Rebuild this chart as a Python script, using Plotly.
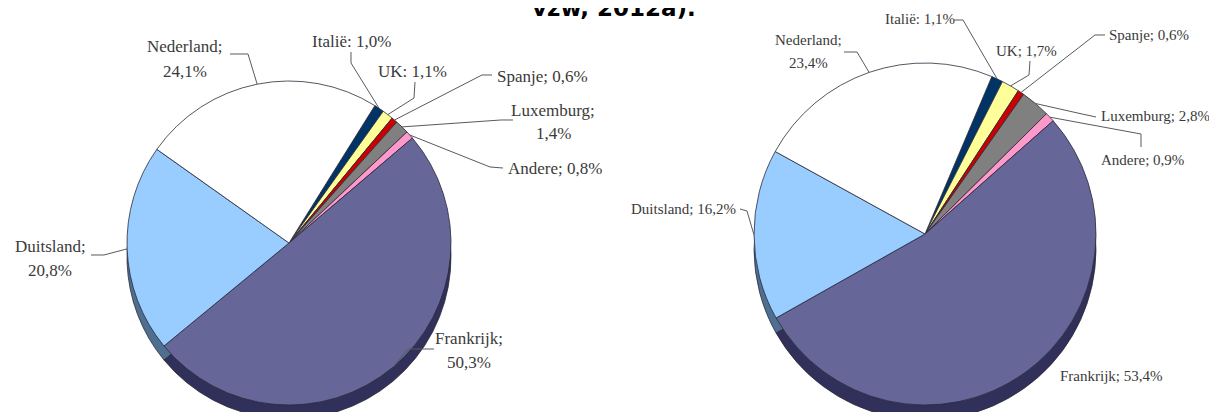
import math
import plotly.graph_objects as go

W, H = 1217, 412

# ---------------- data ----------------
countries = ["Italië", "UK", "Spanje", "Luxemburg", "Andere", "Frankrijk", "Duitsland", "Nederland"]
share_left = [1.0, 1.1, 0.6, 1.4, 0.8, 50.3, 20.8, 24.1]
share_right = [1.1, 1.7, 0.6, 2.8, 0.9, 53.4, 16.2, 23.4]
title_text = "vzw, 2012a)."

# ---------------- styles ----------------
face_colors = ["#003366", "#ffff99", "#cc0000", "#808080", "#ff99cc", "#666699", "#99ccff", "#ffffff"]
side_colors = ["#001a33", "#99995c", "#7a0000", "#4d4d4d", "#996080", "#30305a", "#4f6f90", "#9a9a9a"]
edge_color = "#2b2b3a"
text_color = "#3a3a3a"
lead_color = "#5a5a5a"


def X(px):
    return px / W


def Y(py):
    return 1 - py / H


def fmt(v):
    return f"{v:.1f}".replace(".", ",") + "%"


# pie geometry (pixels): centre x, centre y, radius, depth, rotation, font size, line height
geo_left = dict(cx=281, cy=235, r=162, depth=14, rot=32, fs=17, lh=24)
geo_right = dict(cx=917, cy=226, r=171, depth=15, rot=23, fs=15, lh=23)

# label layout (pixels): first line position, anchor, two-line?, leader points (before tip)
layout_left = {
    "Italië": dict(pos=(343, 34), anchor="center", two=False, sep=":", lead=[(343, 44), (343, 55)]),
    "UK": dict(pos=(404, 64), anchor="center", two=False, sep=":", lead=[(407, 74), (406, 90)]),
    "Spanje": dict(pos=(487, 68), anchor="left", two=False, sep=";", lead=[(484, 67), (474, 67)]),
    "Luxemburg": dict(pos=(545, 102), anchor="center", two=True, sep=";", lead=[(505, 112), (493, 112)]),
    "Andere": dict(pos=(498, 160), anchor="left", two=False, sep=";", lead=[(495, 160), (482, 159)]),
    "Frankrijk": dict(pos=(461, 330), anchor="center", two=True, sep=";", lead=[(426, 341), (400, 341)]),
    "Duitsland": dict(pos=(42, 238), anchor="center", two=True, sep=";", lead=[(83, 247), (96, 247)]),
    "Nederland": dict(pos=(177, 39), anchor="center", two=True, sep=";", lead=[(222, 46), (240, 46)]),
}
layout_right = {
    "Italië": dict(pos=(912, 11), anchor="center", two=False, sep=":", lead=[(946, 12), (955, 12)]),
    "UK": dict(pos=(1018, 43), anchor="center", two=False, sep=";", lead=[(1022, 53), (1021, 67)]),
    "Spanje": dict(pos=(1099, 27), anchor="left", two=False, sep=";", lead=[(1097, 27), (1087, 27)]),
    "Luxemburg": dict(pos=(1091, 108), anchor="left", two=False, sep=";", lead=[(1088, 109), (1074, 106)]),
    "Andere": dict(pos=(1091, 152), anchor="left", two=False, sep=";", lead=[(1133, 139), (1133, 126)]),
    "Frankrijk": dict(pos=(1050, 368), anchor="left", two=False, sep=";", lead=[]),
    "Duitsland": dict(pos=(730, 201), anchor="right", two=False, sep=";", lead=[(732, 201), (739, 203)]),
    "Nederland": dict(pos=(800, 32), anchor="center", two=True, sep=";", lead=[(836, 44), (849, 44)]),
}


def domain(cx, cy, r):
    return dict(x=[max(0, X(cx - r)), min(1, X(cx + r))],
                y=[max(0, Y(cy + r)), min(1, Y(cy - r))])


def slice_tips(values, g):
    total = sum(values)
    cum = 0.0
    tips = []
    for v in values:
        ang = math.radians(g["rot"] + 360 * (cum + v / 2) / total)
        tips.append((g["cx"] + g["r"] * math.sin(ang), g["cy"] - g["r"] * math.cos(ang)))
        cum += v
    return tips


fig = go.Figure()
annotations = []
shapes = []

for values, g, lay in [(share_left, geo_left, layout_left), (share_right, geo_right, layout_right)]:
    # 3D side (shadow pie shifted down)
    fig.add_trace(go.Pie(
        labels=countries, values=values, sort=False, direction="clockwise",
        rotation=g["rot"], textinfo="none", hoverinfo="skip", showlegend=False,
        marker=dict(colors=side_colors, line=dict(color=edge_color, width=0.8)),
        domain=domain(g["cx"], g["cy"] + g["depth"], g["r"]),
    ))
    # top face
    fig.add_trace(go.Pie(
        labels=countries, values=values, sort=False, direction="clockwise",
        rotation=g["rot"], textinfo="none", hovertemplate="%{label}: %{value}%<extra></extra>",
        showlegend=False,
        marker=dict(colors=face_colors, line=dict(color=edge_color, width=0.8)),
        domain=domain(g["cx"], g["cy"], g["r"]),
    ))

    tips = slice_tips(values, g)
    for name, v, tip in zip(countries, values, tips):
        spec = lay[name]
        if spec["two"]:
            lines = [name + spec["sep"], fmt(v)]
        else:
            lines = [name + spec["sep"] + " " + fmt(v)]
        px, py = spec["pos"]
        for k, line in enumerate(lines):
            annotations.append(dict(
                x=X(px), y=Y(py + k * g["lh"]), xref="paper", yref="paper",
                text=line, showarrow=False, xanchor=spec["anchor"], yanchor="middle",
                font=dict(family="Liberation Serif", size=g["fs"], color=text_color),
            ))
        pts = spec["lead"] + [tip]
        if len(pts) >= 2:
            path = "M " + " L ".join(f"{X(a):.5f},{Y(b):.5f}" for a, b in pts)
            shapes.append(dict(type="path", path=path, xref="paper", yref="paper",
                               line=dict(color=lead_color, width=1)))

annotations.append(dict(
    x=X(606), y=Y(15), xref="paper", yref="paper", text=title_text, showarrow=False,
    xanchor="center", yanchor="bottom",
    font=dict(family="DejaVu Sans", size=23, color="#000000", weight="bold"),
))

fig.update_layout(
    width=W, height=H, margin=dict(l=0, r=0, t=0, b=0),
    paper_bgcolor="white", plot_bgcolor="white",
    annotations=annotations, shapes=shapes,
)

fig.write_html("out.html")
